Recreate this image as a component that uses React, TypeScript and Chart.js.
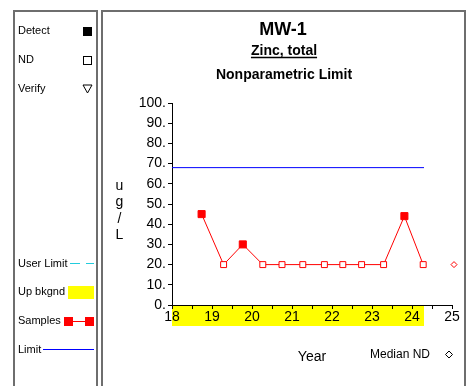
import React, { useEffect, useRef } from 'react';
import { Chart, registerables } from 'chart.js';

Chart.register(...registerables);

// ---- data ----
const sampleYears = [18.74, 19.29, 19.77, 20.27, 20.75, 21.27, 21.81, 22.27, 22.74, 23.29, 23.81, 24.28];
const sampleValues = [45, 20, 30, 20, 20, 20, 20, 20, 20, 20, 44, 20];
const sampleDetected = [true, false, true, false, false, false, false, false, false, false, true, false];
const limitYears = [18, 24.3];
const limitValue = 68;
const bkgndYears = [18, 24.3];
const medianNDYears = [25.05];
const medianNDValues = [20];
const xRange = [18, 25];
const yRange = [0, 100];
const titleLines = ['MW-1', 'Zinc, total', 'Nonparametric Limit'];
const yAxisTitleChars = ['u', 'g', '/', 'L'];
const xAxisTitle = 'Year';
const medianNDLabel = 'Median ND';
const legendTop = ['Detect', 'ND', 'Verify'];
const legendBottom = ['User Limit', 'Up bkgnd', 'Samples', 'Limit'];

const FF = '"Liberation Sans", Arial, sans-serif';
const RED = '#ff0000';
const BLUE = '#0000ff';
const YELLOW = '#ffff00';

const decor = {
  id: 'decor',
  beforeDraw(chart: any) {
    const { ctx, chartArea, scales } = chart;
    const x = scales.x;
    const x0 = x.getPixelForValue(bkgndYears[0]);
    const x1 = x.getPixelForValue(bkgndYears[1]);
    ctx.save();
    ctx.fillStyle = YELLOW;
    ctx.fillRect(x0, chartArea.bottom, x1 - x0, 21);
    ctx.restore();
  },
  afterDraw(chart: any) {
    const { ctx } = chart;
    ctx.save();
    // panels
    ctx.strokeStyle = '#6e6e6e';
    ctx.lineWidth = 2;
    ctx.beginPath();
    ctx.moveTo(14, 386); ctx.lineTo(14, 11); ctx.lineTo(97, 11); ctx.lineTo(97, 386);
    ctx.moveTo(102, 386); ctx.lineTo(102, 11); ctx.lineTo(465, 11); ctx.lineTo(465, 386);
    ctx.stroke();

    // legend texts
    ctx.fillStyle = '#000';
    ctx.font = `11px ${FF}`;
    ctx.textAlign = 'left';
    ctx.textBaseline = 'middle';
    const topY = [31, 60, 88.5];
    legendTop.forEach((t, i) => ctx.fillText(t, 18, topY[i]));
    const botY = [263.5, 292, 321, 349.5];
    legendBottom.forEach((t, i) => ctx.fillText(t, 18, botY[i]));

    // legend symbols
    ctx.fillStyle = '#000';
    ctx.fillRect(83, 27, 9, 9);
    ctx.strokeStyle = '#000';
    ctx.lineWidth = 1;
    ctx.strokeRect(83.5, 56.5, 8, 8);
    ctx.beginPath();
    ctx.moveTo(83, 85); ctx.lineTo(92, 85); ctx.lineTo(87.5, 93); ctx.closePath();
    ctx.stroke();

    // user limit dashed cyan
    ctx.strokeStyle = '#22ccdd';
    ctx.beginPath();
    ctx.moveTo(70, 263.5); ctx.lineTo(80, 263.5);
    ctx.moveTo(86, 263.5); ctx.lineTo(94, 263.5);
    ctx.stroke();
    // up bkgnd
    ctx.fillStyle = YELLOW;
    ctx.fillRect(68, 286, 26, 13);
    // samples
    ctx.strokeStyle = RED;
    ctx.beginPath();
    ctx.moveTo(68, 321.5); ctx.lineTo(90, 321.5);
    ctx.stroke();
    ctx.fillStyle = RED;
    ctx.fillRect(64, 317, 9, 9);
    ctx.fillRect(85, 317, 9, 9);
    // limit
    ctx.strokeStyle = BLUE;
    ctx.beginPath();
    ctx.moveTo(43, 349.5); ctx.lineTo(94, 349.5);
    ctx.stroke();

    // titles
    ctx.fillStyle = '#000';
    ctx.textAlign = 'center';
    ctx.textBaseline = 'middle';
    ctx.font = `bold 18px ${FF}`;
    ctx.fillText(titleLines[0], 283, 30);
    ctx.font = `bold 14px ${FF}`;
    ctx.fillText(titleLines[1], 284, 51);
    const w = ctx.measureText(titleLines[1]).width;
    ctx.strokeStyle = '#000';
    ctx.lineWidth = 1.5;
    ctx.beginPath();
    ctx.moveTo(284 - w / 2, 57.5); ctx.lineTo(284 + w / 2, 57.5);
    ctx.stroke();
    ctx.fillText(titleLines[2], 284, 75);

    // y axis title stacked
    ctx.font = `14px ${FF}`;
    ctx.textBaseline = 'alphabetic';
    yAxisTitleChars.forEach((c, i) => ctx.fillText(c, 119.5, 190 + i * 16.3));

    // x axis title
    ctx.textBaseline = 'middle';
    ctx.fillText(xAxisTitle, 312, 357);

    // median ND legend
    ctx.font = `12px ${FF}`;
    ctx.textAlign = 'left';
    ctx.fillText(medianNDLabel, 370, 354.5);
    ctx.lineWidth = 1;
    ctx.beginPath();
    ctx.moveTo(449, 351); ctx.lineTo(452.5, 354.5); ctx.lineTo(449, 358); ctx.lineTo(445.5, 354.5); ctx.closePath();
    ctx.stroke();
    ctx.restore();
  },
};

export default function App() {
  const ref = useRef<HTMLCanvasElement>(null);
  useEffect(() => {
    if (!ref.current) return;
    const chart = new Chart(ref.current, {
      type: 'scatter',
      data: {
        datasets: [
          {
            label: 'Limit',
            data: limitYears.map((x) => ({ x, y: limitValue })),
            showLine: true,
            borderColor: BLUE,
            borderWidth: 1,
            pointRadius: 0,
          },
          {
            label: 'Samples',
            data: sampleYears.map((x, i) => ({ x, y: sampleValues[i] })),
            showLine: true,
            borderColor: RED,
            borderWidth: 1,
            pointStyle: 'rect',
            pointRadius: sampleDetected.map((d) => (d ? 5 : 4.2)),
            pointBackgroundColor: sampleDetected.map((d) => (d ? RED : '#ffffff')),
            pointBorderColor: RED,
            pointBorderWidth: 1,
          },
          {
            label: 'Median ND',
            data: medianNDYears.map((x, i) => ({ x, y: medianNDValues[i] })),
            showLine: false,
            pointStyle: 'rectRot',
            pointRadius: 3,
            pointBackgroundColor: '#ffffff',
            pointBorderColor: RED,
            pointBorderWidth: 1,
            clip: false,
          },
        ],
      } as any,
      options: {
        animation: false,
        responsive: false,
        events: [],
        layout: { padding: { left: 112, right: 22, top: 103, bottom: 50 } },
        plugins: {
          legend: { display: false },
          tooltip: { enabled: false },
          title: { display: false },
        },
        scales: {
          x: {
            type: 'linear',
            min: xRange[0],
            max: xRange[1],
            afterFit: (s: any) => { s.height = 31; },
            ticks: {
              stepSize: 0.5,
              autoSkip: false,
              maxRotation: 0,
              padding: 0,
              color: '#000',
              font: { family: FF, size: 14 },
              callback: (v: any) => (Number.isInteger(Number(v)) ? String(v) : ''),
            },
            grid: { drawOnChartArea: false, drawTicks: true, tickLength: 4, color: '#000' },
            border: { display: true, color: '#000', width: 1 },
          },
          y: {
            type: 'linear',
            min: yRange[0],
            max: yRange[1],
            afterFit: (s: any) => { s.width = 60; },
            ticks: {
              stepSize: 10,
              padding: 2,
              color: '#000',
              font: { family: FF, size: 14 },
              callback: (v: any) => `${v}.`,
            },
            grid: { drawOnChartArea: false, drawTicks: true, tickLength: 4, color: '#000' },
            border: { display: true, color: '#000', width: 1 },
          },
        },
      } as any,
      plugins: [decor],
    });
    return () => chart.destroy();
  }, []);
  return (
    <div style={{ position: 'fixed', left: 0, top: 0, width: 474, height: 386, background: '#fff' }}>
      <canvas ref={ref} width={474} height={386} style={{ width: 474, height: 386, display: 'block' }} />
    </div>
  );
}
